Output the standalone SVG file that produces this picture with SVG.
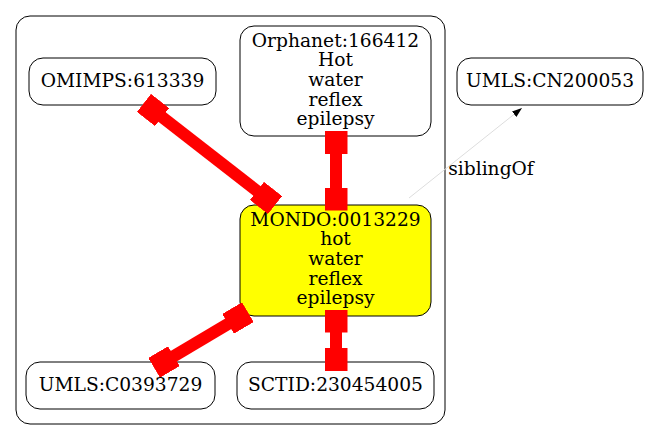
<svg xmlns="http://www.w3.org/2000/svg" width="653" height="440" viewBox="0 0 653 440">
<defs>
<style>
.n{fill:#fff;stroke:#000;stroke-width:1}
.t{font-family:"DejaVu Serif","Liberation Serif",serif;font-size:18.67px;fill:#000;text-anchor:middle}
.e{stroke:#f00;stroke-width:12;fill:none;marker-start:url(#box);marker-end:url(#box)}
</style>
<marker id="box" viewBox="0 0 23 23" refX="11.5" refY="11.5" markerWidth="23" markerHeight="23" markerUnits="userSpaceOnUse" orient="auto"><rect x="0" y="0" width="23" height="23" fill="#f00"/></marker>
<marker id="arr" viewBox="0 0 10 10" refX="10" refY="5" markerWidth="10" markerHeight="10" markerUnits="userSpaceOnUse" orient="auto"><path d="M0,1.5 L10,5 L0,8.5 Z" fill="#000"/></marker>
</defs>
<rect x="0" y="0" width="653" height="440" fill="#fff"/>
<g id="cluster"><rect x="16" y="16" width="429" height="408" rx="14" fill="none" stroke="#000"/></g>
<g id="omimps"><rect class="n" x="29" y="58" width="187" height="47" rx="14"/><text class="t" x="122.5" y="87">OMIMPS:613339</text></g>
<g id="orphanet"><rect class="n" x="240" y="26" width="191" height="110" rx="14"/><text class="t" x="335.5" y="47">Orphanet:166412</text><text class="t" x="335.5" y="66">Hot</text><text class="t" x="335.5" y="86">water</text><text class="t" x="335.5" y="106">reflex</text><text class="t" x="335.5" y="125">epilepsy</text></g>
<g id="umlscn"><rect class="n" x="457" y="58" width="186" height="47" rx="14"/><text class="t" x="550" y="87">UMLS:CN200053</text></g>
<g id="mondo"><rect x="240" y="205" width="191" height="111" rx="14" fill="#ff0" stroke="#000"/><text class="t" x="335.5" y="226">MONDO:0013229</text><text class="t" x="335.5" y="245">hot</text><text class="t" x="335.5" y="265">water</text><text class="t" x="335.5" y="285">reflex</text><text class="t" x="335.5" y="304">epilepsy</text></g>
<g id="umlsc"><rect class="n" x="26" y="362" width="189" height="47" rx="14"/><text class="t" x="120.5" y="391">UMLS:C0393729</text></g>
<g id="sctid"><rect class="n" x="237" y="362" width="197" height="47" rx="14"/><text class="t" x="335.5" y="391">SCTID:230454005</text></g>
<g id="edges">
<line class="e" x1="153" y1="110" x2="266" y2="198"/>
<line class="e" x1="336" y1="142.5" x2="336" y2="199"/>
<line class="e" x1="238" y1="318" x2="164" y2="362"/>
<line class="e" x1="336" y1="321" x2="336" y2="359.5"/>
<line x1="409" y1="198" x2="522" y2="108" stroke="#ddd" stroke-width="1" marker-end="url(#arr)"/>
<text class="t" x="491" y="175">siblingOf</text>
</g>
</svg>
